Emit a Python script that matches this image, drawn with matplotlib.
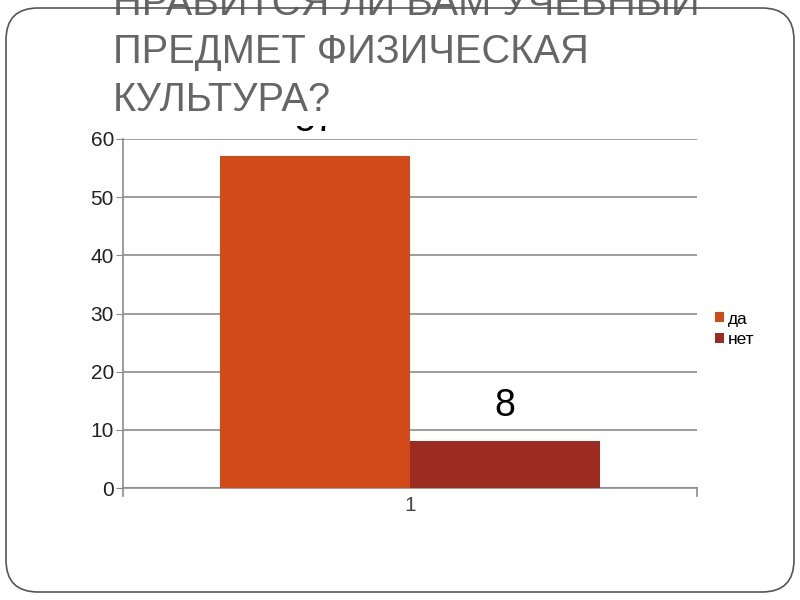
import matplotlib
matplotlib.use("Agg")
import matplotlib.pyplot as plt
from matplotlib.patches import FancyBboxPatch, Rectangle

# chart data
categories = [1]
series_names = ["да", "нет"]
series_values = [57, 8]
series_colors = ["#D24A18", "#9B2C1F"]
y_ticks = [0, 10, 20, 30, 40, 50, 60]
title_lines = ["НРАВИТСЯ ЛИ ВАМ УЧЕБНЫЙ", "ПРЕДМЕТ ФИЗИЧЕСКАЯ", "КУЛЬТУРА?"]

plt.rcParams["font.family"] = ["Liberation Sans", "DejaVu Sans"]

fig = plt.figure(figsize=(8, 6), dpi=100)
ax = fig.add_axes([123 / 800, 1 - 488 / 600, 574 / 800, 349 / 600])

bar_w = 0.331
offsets = [-bar_w / 2, bar_w / 2]
for name, val, col, off in zip(series_names, series_values, series_colors, offsets):
    x = categories[0] + off
    ax.bar(x, val, width=bar_w, color=col, label=name, zorder=3)
    ax.text(x, val + 3.0, str(val), ha="center", va="bottom", fontsize=27,
            color="black", zorder=4)

ax.set_xlim(0.5, 1.5)
ax.set_ylim(0, 60)
ax.set_yticks(y_ticks)
ax.set_xticks(categories)
ax.set_xticklabels([str(c) for c in categories])
ax.yaxis.grid(True, color="#8c8c8c", linewidth=1.2, zorder=0)
for s in ["top", "right"]:
    ax.spines[s].set_visible(False)
for s in ["left", "bottom"]:
    ax.spines[s].set_color("#8c8c8c")
    ax.spines[s].set_linewidth(1.2)
ax.tick_params(axis="y", length=5, color="#8c8c8c", labelsize=15, pad=1.5,
               labelcolor="#222222")
ax.tick_params(axis="x", length=0, labelsize=15, pad=6, labelcolor="#444444")
# category boundary ticks
for xb in [0.5, 1.5]:
    ax.plot([xb, xb], [0, -1.3], color="#8c8c8c", lw=1.2, clip_on=False)

leg = ax.legend(loc="center left", bbox_to_anchor=(1.005, 0.455), frameon=False,
                fontsize=12.5, handlelength=0.5, handleheight=0.5,
                handletextpad=0.2, labelspacing=0.3)

# white title box hides the top of the "57" label
fig.patches.append(Rectangle((100 / 800, 1 - 126 / 600), 610 / 800, 126 / 600,
                             transform=fig.transFigure, facecolor="white",
                             edgecolor="none", zorder=5))

baselines = [15, 63, 111]
for line, yb in zip(title_lines, baselines):
    fig.text(113 / 800, 1 - yb / 600, line, ha="left", va="baseline",
             fontsize=28.7, color="#666666", zorder=6)

# slide frame
fig.patches.append(FancyBboxPatch((6 / 800, 8 / 600), 788 / 800, 584 / 600,
                                  boxstyle="round,pad=0,rounding_size=0.04",
                                  transform=fig.transFigure, facecolor="none",
                                  edgecolor="#555555", linewidth=1.2,
                                  mutation_aspect=800 / 600, zorder=7))

fig.savefig("out.png", dpi=100, facecolor="white")
